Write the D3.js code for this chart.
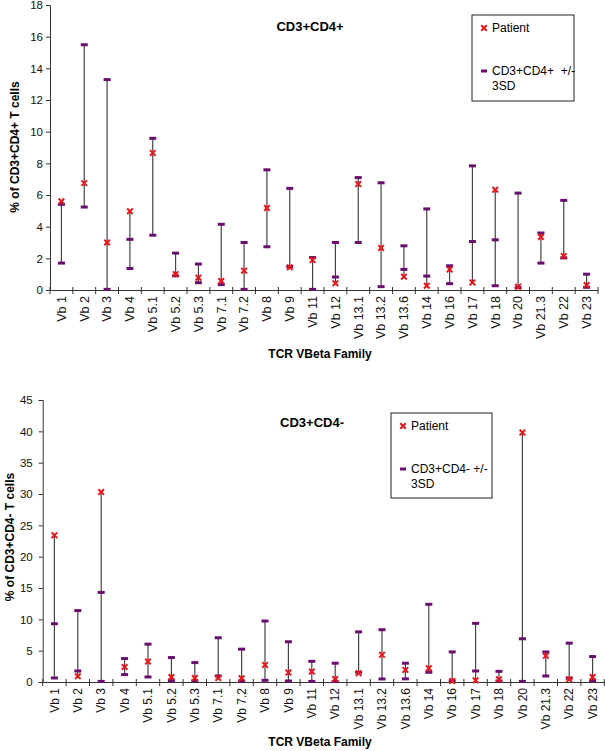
<!DOCTYPE html>
<html>
<head>
<meta charset="utf-8">
<script src="https://cdn.jsdelivr.net/npm/d3@7"></script>
<style>
  body { margin: 0; background: #fff; }
  text { font-family: "Liberation Sans", Arial, sans-serif; }
</style>
</head>
<body>
<script>
//Data
const families = ["Vb 1","Vb 2","Vb 3","Vb 4","Vb 5.1","Vb 5.2","Vb 5.3","Vb 7.1","Vb 7.2","Vb 8","Vb 9","Vb 11",
                  "Vb 12","Vb 13.1","Vb 13.2","Vb 13.6","Vb 14","Vb 16","Vb 17","Vb 18","Vb 20","Vb 21.3","Vb 22","Vb 23"];

const cd4PosPatient = [5.6, 6.75, 3.0, 4.97, 8.66, 1.0, 0.78, 0.57, 1.22, 5.18, 1.43, 1.89, 0.42, 6.69, 2.66, 0.84, 0.27, 1.3, 0.48, 6.33, 0.21, 3.35, 2.14, 0.31];
const cd4PosUpper   = [5.41, 15.49, 13.29, 3.2, 9.58, 2.33, 1.64, 4.15, 3.0, 7.59, 6.42, 2.05, 3.0, 7.1, 6.77, 2.79, 5.12, 1.53, 7.84, 3.17, 6.12, 3.6, 5.66, 1.0];
const cd4PosLower   = [1.7, 5.24, 0.04, 1.36, 3.46, 0.9, 0.46, 0.34, 0.04, 2.73, 1.47, 0.04, 0.82, 3.0, 0.21, 1.3, 0.88, 0.4, 3.06, 0.27, 0.15, 1.7, 2.03, 0.17];
const cd4PosTicks   = [0, 2, 4, 6, 8, 10, 12, 14, 16, 18];

const cd4NegPatient = [23.4, 0.91, 30.3, 2.4, 3.26, 0.8, 0.64, 0.64, 0.6, 2.73, 1.5, 1.66, 0.48, 1.4, 4.33, 1.93, 2.2, 0.16, 0.27, 0.43, 39.8, 4.17, 0.43, 0.8];
const cd4NegUpper   = [9.3, 11.4, 14.3, 3.74, 6.04, 3.9, 3.1, 7.06, 5.24, 9.73, 6.42, 3.3, 3.0, 8.0, 8.34, 3.0, 12.4, 4.8, 9.36, 1.7, 6.9, 4.8, 6.2, 4.06];
const cd4NegLower   = [0.64, 1.76, 0.1, 1.18, 0.8, 0.2, 0.2, 0.96, 0.16, 0.27, 0.16, 0.1, 0.1, 1.55, 0.48, 0.5, 1.55, 0.16, 1.76, 0.16, 0.1, 0.96, 0.6, 0.2];
const cd4NegTicks   = [0, 5, 10, 15, 20, 25, 30, 35, 40, 45];

//Svg creation
const width = 605;
const height = 751;
const red = "#e8161b";
const purple = "#6a0f70";

const svg = d3.select("body")
              .append("svg")
              .attr("width", width)
              .attr("height", height);

function drawPanel(opt) {
    const g = svg.append("g");
    const x = d3.scaleBand().domain(families).range(opt.xRange);
    const y = d3.scaleLinear().domain([0, d3.max(opt.ticks)]).range(opt.yRange);
    const rows = families.map((f, i) => ({f, p: opt.patient[i], u: opt.upper[i], l: opt.lower[i]}));
    const cx = d => x(d.f) + x.bandwidth() / 2;

//y axis
    const yAxis = g.append("g")
        .attr("transform", `translate(${opt.xRange[0]},0)`)
        .call(d3.axisLeft(y).tickValues(opt.ticks).tickSize(4).tickPadding(opt.tickPad).tickFormat(d3.format("d")));
    yAxis.select(".domain").attr("stroke", "#333");
    yAxis.selectAll(".tick line").attr("stroke", "#333");
    yAxis.selectAll("text").style("font-size", "11.5px").attr("fill", "#111");

//x axis
    const xAxis = g.append("g")
        .attr("transform", `translate(0,${opt.yRange[0]})`)
        .call(d3.axisBottom(x).tickSize(0).tickPadding(0));
    xAxis.select(".domain").attr("stroke", "#333");
    xAxis.selectAll("text")
        .style("font-size", opt.labelSize)
        .attr("fill", "#111")
        .attr("text-anchor", "end")
        .attr("dy", "0.35em")
        .attr("transform", "translate(0,6) rotate(-90)")
        .attr("y", 0)
        .attr("x", 0);
    g.selectAll(".xtick")
        .data(families.map(f => x(f)).concat([opt.xRange[1]]))
        .join("line")
        .attr("class", "xtick")
        .attr("x1", d => d).attr("x2", d => d)
        .attr("y1", opt.yRange[0] - 3).attr("y2", opt.yRange[0] + 4)
        .attr("stroke", "#333");

//high-low lines
    g.selectAll(".hl")
        .data(rows)
        .join("line")
        .attr("class", "hl")
        .attr("x1", cx).attr("x2", cx)
        .attr("y1", d => y(Math.max(d.p, d.u, d.l)))
        .attr("y2", d => y(Math.min(d.p, d.u, d.l)))
        .attr("stroke", "#444")
        .attr("stroke-width", 1.2);

//SD caps
    g.selectAll(".cap")
        .data(rows.flatMap(d => [{f: d.f, v: d.u}, {f: d.f, v: d.l}]))
        .join("rect")
        .attr("class", "cap")
        .attr("x", d => cx(d) - 3.5)
        .attr("y", d => y(d.v) - 1.5)
        .attr("width", 7).attr("height", 3)
        .attr("fill", purple);

//Patient markers
    const cross = d3.symbol().type(d3.symbolX).size(22);
    g.selectAll(".pt")
        .data(rows)
        .join("path")
        .attr("class", "pt")
        .attr("d", cross)
        .attr("transform", d => `translate(${cx(d)},${y(d.p)})`)
        .attr("stroke", red)
        .attr("stroke-width", 2)
        .attr("fill", "none");

//Titles
    g.append("text")
        .attr("x", opt.title[1]).attr("y", opt.title[2])
        .attr("text-anchor", "middle")
        .style("font-size", "13px").style("font-weight", "bold")
        .text(opt.title[0]);
    g.append("text")
        .attr("transform", `translate(${opt.yTitle[1]},${opt.yTitle[2]}) rotate(-90)`)
        .attr("text-anchor", "middle")
        .style("font-size", "12px").style("font-weight", "bold")
        .text(opt.yTitle[0]);
    g.append("text")
        .attr("x", opt.xTitle[0]).attr("y", opt.xTitle[1])
        .attr("text-anchor", "middle")
        .style("font-size", "12px").style("font-weight", "bold")
        .text("TCR VBeta Family");

//Legend
    const [lx, ly, lw, lh] = opt.legend;
    const lg = g.append("g").attr("transform", `translate(${lx},${ly})`);
    lg.append("rect").attr("width", lw).attr("height", lh)
        .attr("fill", "#fff").attr("stroke", "#222").attr("stroke-width", 1);
    lg.append("path").attr("d", cross)
        .attr("transform", "translate(12,13)")
        .attr("stroke", red).attr("stroke-width", 2).attr("fill", "none");
    lg.append("text").attr("x", 20).attr("y", 17).style("font-size", "12px").text("Patient");
    lg.append("rect").attr("x", 9).attr("y", 54.5).attr("width", 6).attr("height", 3).attr("fill", purple);
    lg.append("text").attr("x", 20).attr("y", 60).style("font-size", "12px")
        .selectAll("tspan")
        .data(opt.legendLabel)
        .join("tspan")
        .attr("x", 20)
        .attr("dy", (d, i) => i === 0 ? 0 : "1.25em")
        .attr("xml:space", "preserve")
        .text(d => d);
}

drawPanel({
    patient: cd4PosPatient, upper: cd4PosUpper, lower: cd4PosLower, ticks: cd4PosTicks,
    xRange: [50, 598], yRange: [290, 5], tickPad: 3, labelSize: "12.5px",
    title: ["CD3+CD4+", 310, 31], yTitle: ["% of CD3+CD4+ T cells", 19, 147], xTitle: [320, 358],
    legend: [472, 15, 102, 86], legendLabel: ["CD3+CD4+  +/-", "3SD"]
});

drawPanel({
    patient: cd4NegPatient, upper: cd4NegUpper, lower: cd4NegLower, ticks: cd4NegTicks,
    xRange: [42.7, 604.3], yRange: [682, 400], tickPad: 6, labelSize: "12px",
    title: ["CD3+CD4-", 312, 427], yTitle: ["% of CD3+CD4- T cells", 14, 537], xTitle: [320, 746],
    legend: [391, 413, 101, 85], legendLabel: ["CD3+CD4- +/-", "3SD"]
});
</script>
</body>
</html>
